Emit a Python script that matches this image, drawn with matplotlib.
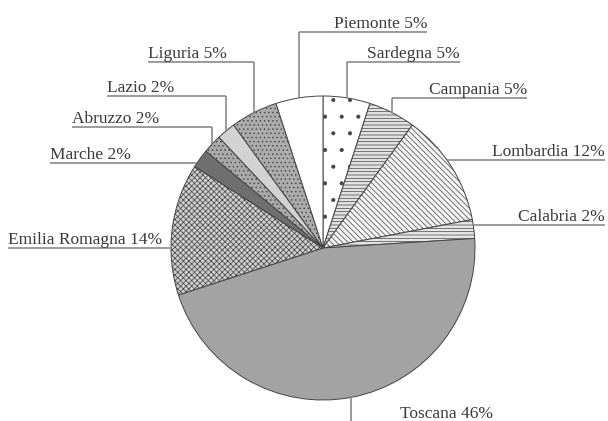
import matplotlib
matplotlib.use("Agg")
import matplotlib.pyplot as plt
import numpy as np

# shares by region, clockwise from 12 o'clock
regions = ["Sardegna", "Campania", "Lombardia", "Calabria", "Toscana",
           "Emilia Romagna", "Marche", "Abruzzo", "Lazio", "Liguria", "Piemonte"]
shares = [5, 5, 12, 2, 46, 14, 2, 2, 2, 5, 5]

fills = ["#ffffff", "#e2e2e2", "#f4f4f4", "#e6e6e6", "#a3a3a3",
         "#cdcdcd", "#6f6f6f", "#a9a9a9", "#d2d2d2", "#ababab", "#ffffff"]
hatches = [".", "-----", "\\\\\\\\\\\\", "-----", None,
           "xxxxxx", None, "....", None, "....", None]

# label layout in pixels: (anchor x, underline y, text side, leader mode)
layout = [(460, 62, "right", "v"), (527, 98, "right", "v"),
          (605, 160, "right", "h"), (605, 225, "right", "h"),
          (493, 422, "right", "v"), (8, 248, "left", "h"),
          (50, 163, "left", "h"), (72, 127, "left", "v"),
          (107, 96, "left", "v"), (148, 62, "left", "v"),
          (427, 32, "right", "v")]

W, H = 608, 421
cx, cy, r = 323, 248, 152

plt.rcParams['font.family'] = ['Liberation Serif', 'DejaVu Serif']
plt.rcParams['hatch.color'] = '#707070'
plt.rcParams['hatch.linewidth'] = 0.5

fig = plt.figure(figsize=(W / 100, H / 100), dpi=100)
ax = fig.add_axes([0, 0, 1, 1])

wedges, _ = ax.pie(shares, colors=fills, startangle=90, counterclock=False,
                   center=(cx, H - cy), radius=r, frame=True,
                   wedgeprops=dict(edgecolor="#444444", linewidth=0.7))
for w, h in zip(wedges, hatches):
    if h:
        w.set_hatch(h)

ax.set_xlim(0, W)
ax.set_ylim(0, H)
ax.set_aspect("equal")
ax.axis("off")

line_kw = dict(color="#808080", lw=1.1, solid_capstyle="butt")
for w, name, pct, (ax_x, ly, side, mode) in zip(wedges, regions, shares, layout):
    mid = np.deg2rad((w.theta1 + w.theta2) / 2)
    ex = cx + r * np.cos(mid)
    ey = cy - r * np.sin(mid)
    if mode == "v":
        elbow = ex
        ax.plot([elbow, elbow], [H - ly, H - ey], **line_kw)
    else:
        dx = np.sqrt(max(r ** 2 - (ly - cy) ** 2, 0))
        elbow = cx + dx if side == "right" else cx - dx
    ax.plot([ax_x, elbow], [H - ly, H - ly], **line_kw)
    ax.text(ax_x, H - ly + 4, f"{name} {pct}%", ha=side, va="baseline",
            fontsize=12.5, color="#3a3a3a")

fig.savefig("out.png", dpi=100)
